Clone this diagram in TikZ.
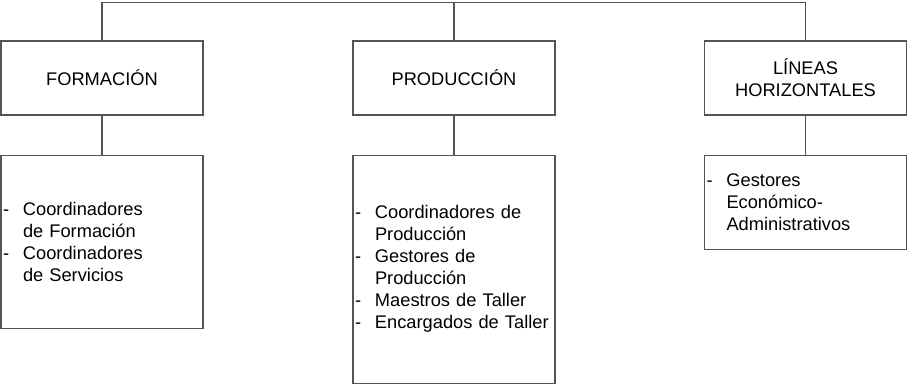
\documentclass[tikz,border=0pt]{standalone}
\usepackage{fontspec}
\setmainfont{Liberation Sans}
\usetikzlibrary{positioning}
\definecolor{LineClr}{rgb}{0.33,0.33,0.33}
\newcommand{\dsh}{\makebox[15pt][l]{-}}
\newcommand{\ind}{\hspace*{15pt}}

\begin{document}
\begin{tikzpicture}[x=0.75pt,y=-0.75pt,
  txt/.style={font=\fontsize{13.7}{16.5}\selectfont},
  head/.style={txt,draw=LineClr,line width=0.9pt,minimum width=151.5pt,
    minimum height=55.5pt,inner sep=0pt,align=center},
  list/.style={txt,draw=LineClr,line width=0.9pt,text width=148.5pt,
    inner xsep=1.5pt,inner ysep=0pt,align=left},
  conn/.style={draw=LineClr,line width=0.9pt}]
\useasboundingbox (0,0) rectangle (909,383);

% cabeceras
\node[head] (form) at (102,78) {FORMACIÓN};
\node[head] (prod) at (454,78) {PRODUCCIÓN};
\node[head] (lin) at (805.5,78) {LÍNEAS\\HORIZONTALES};

% listas
\node[list,minimum height=129.75pt,below=29.25pt of form] (formL)
  {\dsh Coordinadores\\\ind de Formación\\\dsh Coordinadores\\\ind de Servicios};
\node[list,minimum height=171pt,below=29.25pt of prod] (prodL)
  {\dsh Coordinadores de\\\ind Producción\\\dsh Gestores de\\\ind Producción\\
   \dsh Maestros de Taller\\\dsh Encargados de Taller};
\node[list,minimum height=70.5pt,below=29.25pt of lin] (linL)
  {\dsh Gestores\\\ind Económico-\\\ind Administrativos};

% conectores
\coordinate (bus) at (454,2.7);
\draw[conn] (form.north) |- (bus) -| (lin.north);
\draw[conn] (prod.north) -- (prod.north |- bus);
\draw[conn] (form) -- (formL);
\draw[conn] (prod) -- (prodL);
\draw[conn] (lin) -- (linL);

\end{tikzpicture}
\end{document}
